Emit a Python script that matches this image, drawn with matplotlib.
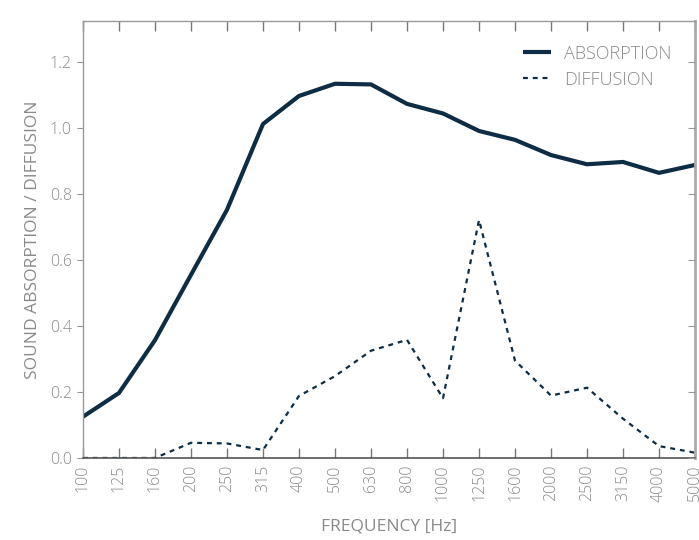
import matplotlib
matplotlib.use('Agg')
import matplotlib.pyplot as plt

freqs = ['100', '125', '160', '200', '250', '315', '400', '500', '630', '800',
         '1000', '1250', '1600', '2000', '2500', '3150', '4000', '5000']
absorption = [0.125, 0.197, 0.357, 0.555, 0.752, 1.012, 1.097, 1.134, 1.132, 1.073,
              1.044, 0.991, 0.964, 0.918, 0.890, 0.897, 0.864, 0.888]
diffusion = [0.0, 0.0, 0.0, 0.046, 0.044, 0.024, 0.188, 0.248, 0.325, 0.358,
             0.181, 0.721, 0.295, 0.189, 0.213, 0.119, 0.036, 0.016]
yticks = [0.0, 0.2, 0.4, 0.6, 0.8, 1.0, 1.2]

navy = '#0c2d44'
grey = '#8a8a8a'
plt.rcParams['font.family'] = ['Open Sans', 'DejaVu Sans']
plt.rcParams['font.weight'] = 'light'

fig = plt.figure(figsize=(6.99, 5.40), dpi=100)
ax = fig.add_axes([0.1187, 0.1519, 0.8756, 0.8091])

x = list(range(len(freqs)))
ax.plot(x, absorption, color=navy, lw=3, label='ABSORPTION', solid_capstyle='butt')
ax.plot(x, diffusion, color=navy, lw=1.6, ls=(0, (2.2, 2.2)), label='DIFFUSION')

ax.set_xlim(0, len(freqs) - 1)
ax.set_ylim(0, 1.324)
ax.set_xticks(x)
ax.set_xticklabels(freqs, rotation=90)
ax.set_yticks(yticks)
ax.set_yticklabels([f'{v:.1f}' for v in yticks])

ax.tick_params(axis='x', direction='in', length=7, top=True, color='#777777',
               labelsize=11.5, labelcolor=grey, pad=5, width=1)
ax.tick_params(axis='y', direction='out', length=4, color='#999999',
               labelsize=11.5, labelcolor=grey, pad=4)
for s in ['left', 'top']:
    ax.spines[s].set_color('#999999')
    ax.spines[s].set_linewidth(1)
ax.spines['bottom'].set_color('#555555')
ax.spines['bottom'].set_linewidth(1.2)
ax.spines['right'].set_color('#aaaaaa')
ax.spines['right'].set_linewidth(2)

# inward ticks on the right side
ax2 = ax.twinx()
ax2.set_ylim(ax.get_ylim())
ax2.set_yticks(yticks)
ax2.tick_params(axis='y', direction='in', length=5, color='#999999', labelright=False)
for s in ax2.spines.values():
    s.set_visible(False)

ax.set_xlabel('FREQUENCY [Hz]', fontsize=12.5, color=grey, labelpad=12)
ax.set_ylabel('SOUND ABSORPTION / DIFFUSION', fontsize=12.5, color=grey, labelpad=6)

leg = ax.legend(loc='upper right', frameon=False, fontsize=13, handlelength=1.6,
                handletextpad=0.7, borderaxespad=0.9, labelspacing=0.45)
for t in leg.get_texts():
    t.set_color(grey)

fig.savefig('out.png', dpi=100)
